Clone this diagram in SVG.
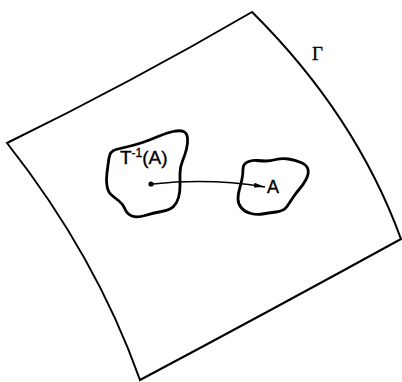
<svg xmlns="http://www.w3.org/2000/svg" width="402" height="382" viewBox="0 0 402 382">
<style>
.sheet{fill:none;stroke:#000;stroke-width:2;stroke-linejoin:miter}
.blob{fill:none;stroke:#000;stroke-width:2.8;stroke-linejoin:round}
.lbl{font-family:"Liberation Sans",Arial,sans-serif;fill:#000;stroke:#000;stroke-width:0.35}
.gamma{font-family:"Liberation Serif","Times New Roman",serif;fill:#000;stroke:#000;stroke-width:0.3}
.conn{fill:none;stroke:#000;stroke-width:1.5}
</style>
<defs>
<marker id="ah" markerWidth="12" markerHeight="6" refX="11" refY="3" orient="auto" markerUnits="userSpaceOnUse">
<path d="M0,0.6 L11,3 L0,5.4 Z" fill="#000"/>
</marker>
</defs>
<rect width="402" height="382" fill="#fff"/>
<g id="sheet">
<path class="sheet" d="M7,143 Q130,83 252,12 Q355.5,114.5 401,239 Q268,312 140,380 Q96,256 7,143 Z"/>
<text class="gamma" x="312" y="59.5" font-size="19">Γ</text>
</g>
<g id="preimage">
<path class="blob" d="M109,158 Q110,151 116,149.5 Q122,148 128.5,146.5 Q135,145 142.5,142.5 Q150,140 158,136.5 Q166,133 173,131.5 Q180,130 183.5,131.5 Q187,133 187.5,138 Q188,143 186.5,149 Q185,155 182.5,161 Q180,167 180,173.5 Q180,180 180,186 Q180,192 178.5,197.5 Q177,203 173.5,206.5 Q170,210 161.5,211.5 Q153,213 145,215.5 Q137,218 132,216 Q127,214 125,209 Q123,204 119,201 Q115,198 111.5,195 Q108,192 107,186 Q106,180 107,172.5 Q108,165 109,158 Z"/>
<text class="lbl" x="120" y="164" font-size="19">T<tspan font-size="12" dy="-7.5">-1</tspan><tspan dy="7.5">(A)</tspan></text>
<circle cx="151" cy="184" r="2.6" fill="#000"/>
</g>
<g id="image">
<path class="blob" d="M243,169 Q243,164 247.5,162 Q252,160 257,160.5 Q262,161 266,161 Q270,161 276,159.5 Q282,158 288.5,159 Q295,160 301,162.5 Q307,165 308,169.5 Q309,174 306,179.5 Q303,185 299.5,189 Q296,193 293,197.5 Q290,202 287,206.5 Q284,211 276,212 Q268,213 262.5,214 Q257,215 251,213.5 Q245,212 241.5,208 Q238,204 238,199 Q238,194 239.5,189 Q241,184 242,179 Q243,174 243,169 Z"/>
<text class="lbl" x="267" y="193" font-size="18">A</text>
</g>
<g id="connectors">
<path class="conn" d="M153,184 Q210,178 265,187" marker-end="url(#ah)"/>
</g>
</svg>
